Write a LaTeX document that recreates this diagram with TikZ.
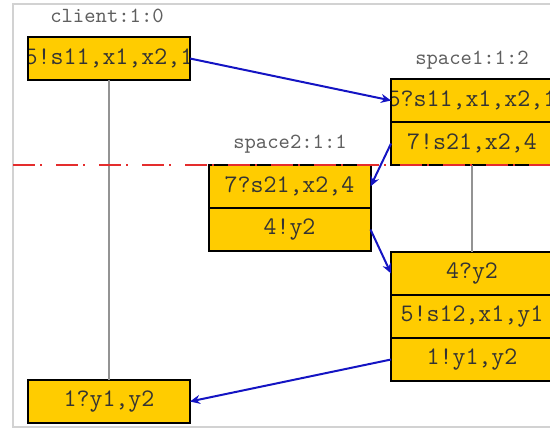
\documentclass[tikz,border=0pt]{standalone}
\usetikzlibrary{arrows.meta, positioning}
\definecolor{boxgold}{RGB}{255,204,0}
\definecolor{msgblue}{RGB}{20,20,195}
\definecolor{cutred}{RGB}{228,45,45}
\definecolor{labelgray}{RGB}{95,95,95}

\tikzset{
  proc/.style={draw=black, line width=1pt, fill=boxgold, minimum width=81pt,
    minimum height=21.5pt, inner sep=0pt, outer sep=0pt,
    text=black!80, font=\fontsize{12.6}{13}\selectfont\ttfamily},
  cliptext/.style={path picture={\node[text=black!80, font=\fontsize{12.6}{13}\selectfont\ttfamily]
    at (path picture bounding box.center) {#1};}},
  proclabel/.style={text=labelgray, font=\fontsize{10.8}{11}\selectfont\ttfamily},
  msg/.style={-{Stealth[length=5pt, width=4.5pt]}, msgblue, line width=1pt},
  lifeline/.style={gray!85, line width=0.75pt}
}

\begin{document}
\begin{tikzpicture}[x=0.5pt, y=-0.5pt]
\useasboundingbox (0,0) rectangle (550,429);

% frame
\draw[gray!35, line width=0.75pt] (570,4) -- (13,4) -- (13,427) -- (570,427);

% client
\node[proclabel] (clientlbl) at (107,16) {client:1:0};
\node[proc, cliptext={5!s11,x1,x2,1}] (c1) at (109,58.5) {};
\node[proc] (c2) at (109,401.5) {1?y1,y2};

% space1
\node[proclabel] (space1lbl) at (472,60) {space1:1:2};
\node[proc, cliptext={5?s11,x1,x2,1}] (s1a) at (472,100.5) {};
\node[proc, below=0pt of s1a] (s1b) {7!s21,x2,4};
\node[proc] (s1c) at (472,273.5) {4?y2};
\node[proc, below=0pt of s1c] (s1d) {5!s12,x1,y1};
\node[proc, below=0pt of s1d] (s1e) {1!y1,y2};

% space2
\node[proclabel] (space2lbl) at (290,144) {space2:1:1};
\node[proc] (s2a) at (289.5,186.5) {7?s21,x2,4};
\node[proc, below=0pt of s2a] (s2b) {4!y2};

% lifelines
\draw[lifeline] (c1.south) -- (c2.north);
\draw[lifeline] (s1b.south) -- (s1c.north);

% cut line
\coordinate (cutl) at (13,165);
\coordinate (cutr) at (550,165);
\draw[cutred, line width=1pt, dash pattern=on 11pt off 2.5pt on 1pt off 7pt] (cutl) -- (cutr);

% messages
\draw[msg] (c1.east) -- (s1a.west);
\draw[msg] (s1b.west) -- (s2a.east);
\draw[msg] (s2b.east) -- (s1c.west);
\draw[msg] (s1e.west) -- (c2.east);
\end{tikzpicture}
\end{document}
